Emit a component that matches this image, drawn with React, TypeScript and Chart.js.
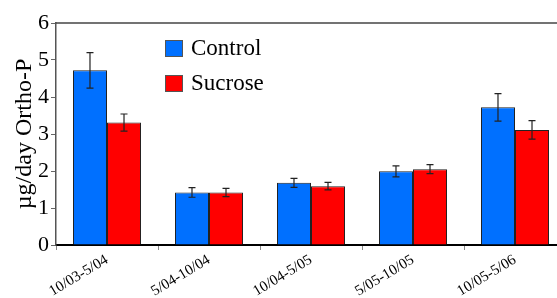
import React, { useEffect, useRef } from "react";
import { Chart, registerables } from "chart.js";

Chart.register(...registerables);

const categories = ["10/03-5/04", "5/04-10/04", "10/04-5/05", "5/05-10/05", "10/05-5/06"];
const seriesNames = ["Control", "Sucrose"];
const controlValues = [4.72, 1.42, 1.68, 1.99, 3.72];
const controlErrors = [0.48, 0.13, 0.12, 0.15, 0.37];
const sucroseValues = [3.31, 1.42, 1.59, 2.05, 3.11];
const sucroseErrors = [0.23, 0.11, 0.1, 0.12, 0.25];
const yMin = 0;
const yMax = 6;
const yStep = 1;
const yTitle = "µg/day Ortho-P";

const FONT = "'Liberation Serif', serif";
const BLUE = "#0070ff";
const RED = "#ff0000";

const errorBarPlugin = {
  id: "errorBars",
  afterDatasetsDraw(chart: any) {
    const ctx = chart.ctx;
    const yScale = chart.scales.y;
    chart.data.datasets.forEach((ds: any, di: number) => {
      const meta = chart.getDatasetMeta(di);
      const errs: number[] = ds.errors || [];
      meta.data.forEach((bar: any, i: number) => {
        const v = ds.data[i];
        const e = errs[i];
        if (e == null) return;
        const x = bar.x;
        const yTop = yScale.getPixelForValue(v + e);
        const yBot = yScale.getPixelForValue(v - e);
        ctx.save();
        ctx.strokeStyle = "#222";
        ctx.lineWidth = 1.2;
        ctx.beginPath();
        ctx.moveTo(x, yTop);
        ctx.lineTo(x, yBot);
        ctx.moveTo(x - 3.5, yTop);
        ctx.lineTo(x + 3.5, yTop);
        ctx.moveTo(x - 3.5, yBot);
        ctx.lineTo(x + 3.5, yBot);
        ctx.stroke();
        ctx.restore();
      });
    });
  },
};

const frameLegendPlugin = {
  id: "frameLegend",
  afterDraw(chart: any) {
    const ctx = chart.ctx;
    const a = chart.chartArea;
    ctx.save();
    ctx.strokeStyle = "#444";
    ctx.lineWidth = 1.5;
    ctx.beginPath();
    ctx.moveTo(a.left, a.top);
    ctx.lineTo(a.right, a.top);
    ctx.stroke();
    const colors = [BLUE, RED];
    ctx.textBaseline = "middle";
    ctx.textAlign = "left";
    ctx.font = "23px 'Liberation Serif', serif";
    seriesNames.forEach((name, i) => {
      const bx = a.left + 109;
      const by = a.top + 17 + i * 35;
      ctx.fillStyle = colors[i];
      ctx.fillRect(bx, by, 18, 17);
      ctx.strokeStyle = "#555";
      ctx.lineWidth = 1;
      ctx.strokeRect(bx + 0.5, by + 0.5, 17, 16);
      ctx.fillStyle = "#000";
      ctx.fillText(name, bx + 26, by + 9);
    });
    ctx.restore();
  },
};

export default function App() {
  const ref = useRef<HTMLCanvasElement>(null);
  useEffect(() => {
    if (!ref.current) return;
    const chart = new Chart(ref.current, {
      type: "bar",
      data: {
        labels: categories,
        datasets: [
          {
            label: seriesNames[0],
            data: controlValues,
            errors: controlErrors,
            backgroundColor: BLUE,
            borderColor: "#222",
            borderWidth: 1,
            barPercentage: 1,
            categoryPercentage: 0.667,
          } as any,
          {
            label: seriesNames[1],
            data: sucroseValues,
            errors: sucroseErrors,
            backgroundColor: RED,
            borderColor: "#222",
            borderWidth: 1,
            barPercentage: 1,
            categoryPercentage: 0.667,
          } as any,
        ],
      },
      options: {
        responsive: false,
        animation: false,
        devicePixelRatio: 1,
        layout: { padding: { top: 23, right: 9, left: 0, bottom: 0 } },
        plugins: {
          legend: { display: false },
          tooltip: { enabled: false },
        },
        scales: {
          x: {
            grid: {
              display: true,
              drawOnChartArea: false,
              offset: true,
              tickLength: 5,
              color: "#888",
            },
            border: { display: true, color: "#000", width: 2 },
            ticks: {
              font: { family: FONT, size: 15 },
              color: "#000",
              minRotation: 31,
              maxRotation: 31,
              padding: 1,
            },
            afterFit: (s: any) => {
              s.height = 53;
            },
          },
          y: {
            min: yMin,
            max: yMax,
            ticks: {
              stepSize: yStep,
              font: { family: FONT, size: 22 },
              color: "#000",
              padding: 2,
            },
            grid: {
              display: true,
              drawOnChartArea: false,
              tickLength: 5,
              color: "#666",
            },
            border: { display: true, color: "#555", width: 1.5 },
            title: {
              display: true,
              text: yTitle,
              font: { family: FONT, size: 24 },
              color: "#000",
              padding: { top: 10, bottom: 0 },
            },
            afterFit: (s: any) => {
              s.width = 56;
            },
          },
        },
      },
      plugins: [errorBarPlugin, frameLegendPlugin],
    } as any);
    return () => {
      chart.destroy();
    };
  }, []);
  return (
    <div
      style={{
        position: "fixed",
        left: 0,
        top: 0,
        width: 557,
        height: 298,
        overflow: "hidden",
        background: "#fff",
      }}
    >
      <canvas ref={ref} width={575} height={298} style={{ display: "block" }} />
    </div>
  );
}
